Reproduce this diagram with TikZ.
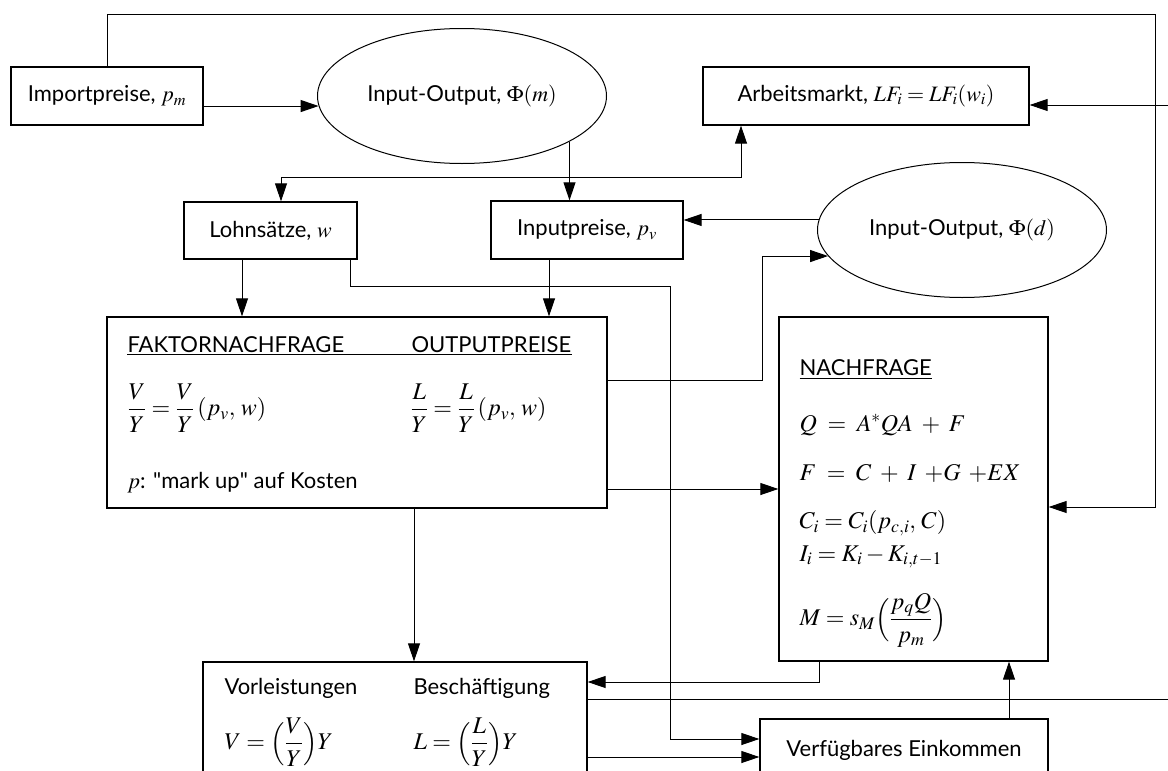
\documentclass[tikz,border=0pt]{standalone}
\usepackage{amsmath}
\usepackage{mathptmx}
\usepackage{fontspec}
\setmainfont{Lato}
\usepackage{tikz}
\usetikzlibrary{arrows.meta,shapes.geometric}

\begin{document}
\begin{tikzpicture}[x=1pt,y=-1pt,line width=1pt,
  font=\fontsize{22}{26}\selectfont,
  box/.style={draw,line width=1.3pt,inner sep=0pt},
  oval/.style={draw,ellipse,inner sep=0pt,minimum width=289pt,minimum height=135pt},
  txt/.style={inner sep=0pt},
  eqn/.style={inner sep=0pt,anchor=west,font=\fontsize{24}{28}\selectfont},
  arr/.style={-{Triangle[length=18pt,width=12pt]}}]
  \useasboundingbox (0,0) rectangle (1168,771);
  \clip (0,0) rectangle (1168,771);

  \node[box,minimum width=192pt,minimum height=58pt] (imp) at (107,96) {Importpreise, $p_m$};
  \node[oval] (iom) at (462,96) {Input-Output, $\Phi(m)$};
  \node[box,minimum width=326pt,minimum height=58pt] (arb) at (866,96) {Arbeitsmarkt, $LF_i = LF_i(w_i)$};
  \node[box,minimum width=173pt,minimum height=57pt] (lohn) at (270.5,230.5) {Lohnsätze, $w$};
  \node[box,minimum width=192pt,minimum height=58pt] (inpr) at (587,230) {Inputpreise, $p_v$};
  \node[oval] (iod) at (962,230) {Input-Output, $\Phi(d)$};
  \node[box,minimum width=500pt,minimum height=191pt] (faktor) at (357,412.5) {};
  \node[box,minimum width=269pt,minimum height=344pt] (nach) at (913.5,489) {};
  \node[box,minimum width=384pt,minimum height=138pt] (vorl) at (395,731) {};
  \node[box,minimum width=288pt,minimum height=62pt] (verf) at (904,750) {Verfügbares Einkommen};

  \node[txt,anchor=base west] (fn) at (127,352) {FAKTORNACHFRAGE};
  \node[txt,anchor=base west] (op) at (411,352) {OUTPUTPREISE};
  \draw[line width=0.8pt] ([yshift=-2.5pt]fn.base west) -- ([yshift=-2.5pt]op.base east);
  \node[eqn] (vy) at (127,408) {$\dfrac{V}{Y} = \dfrac{V}{Y}\,(p_v,\,w)$};
  \node[eqn] (ly) at (410,408) {$\dfrac{L}{Y} = \dfrac{L}{Y}\,(p_v,\,w)$};
  \node[txt,anchor=base west] (mk) at (127,488) {$p$: \textquotedbl mark up\textquotedbl{} auf Kosten};

  \node[txt,anchor=base west] (nf) at (799,375) {\underline{NACHFRAGE}};
  \node[eqn] (eq1) at (799,425) {$Q \;=\; A^{*}QA \;+\; F$};
  \node[eqn] (eq2) at (799,473) {$F \;=\; C \;+\; I\;\,{+}G\;\,{+}EX$};
  \node[eqn] (eq3) at (799,523) {$C_i = C_i(p_{c,i},\,C)$};
  \node[eqn] (eq4) at (799,557) {$I_i = K_i - K_{i,t-1}$};
  \node[eqn] (eq5) at (799,620) {$M = s_M\Bigl(\dfrac{p_qQ}{p_m}\Bigr)$};

  \node[txt,anchor=base west] (vl) at (224,694) {Vorleistungen};
  \node[txt,anchor=base west] (bs) at (413,694) {Beschäftigung};
  \node[eqn] (veq) at (224,742) {$V = \Bigl(\dfrac{V}{Y}\Bigr) Y$};
  \node[eqn] (leq) at (413,742) {$L = \Bigl(\dfrac{L}{Y}\Bigr) Y$};

  \coordinate (j) at (iom.-23 |- 0,177);
  \draw[arr] (imp.north) |- (1155,14) |- ([yshift=-18pt]nach.east);
  \draw[arr] (imp.east |- iom.184) -- (iom.184);
  \draw[arr] (iom.-23) -- (iom.-23 |- inpr.north);
  \draw[arr] (j) -| ([xshift=10.5pt]lohn.north);
  \draw[arr] (j) -| ([xshift=-125pt]arb.south);
  \draw[arr] (iod.176) -- (iod.176 -| inpr.east);
  \draw[arr] ([xshift=-28.5pt]lohn.south) -- ([xshift=-28.5pt]lohn.south |- faktor.north);
  \draw[arr] ([xshift=-38pt]inpr.south) -- ([xshift=-38pt]inpr.south |- faktor.north);
  \draw[arr] ([xshift=79.5pt]lohn.south) |- (670,286) -- (670,739) -- (verf.west |- 0,739);
  \draw[arr] (faktor.east |- 0,380) -| (iod.191 -| 762,0) -- (iod.191);
  \draw[arr] (faktor.east |- nach.west) -- (nach.west);
  \draw[arr] ([xshift=57pt]faktor.south) -- ([xshift=57pt]faktor.south |- vorl.north);
  \draw[arr] ([xshift=-94.5pt]nach.south) |- (vorl.east |- 0,682);
  \draw[arr] (vorl.east |- 0,699) -- (1185,699) -- (1185,105) -- (arb.east |- 0,105);
  \draw[arr] (vorl.east |- 0,757) -- (verf.west |- 0,757);
  \draw[arr] ([xshift=105pt]verf.north) -- ([xshift=105pt]verf.north |- nach.south);
\end{tikzpicture}
\end{document}
